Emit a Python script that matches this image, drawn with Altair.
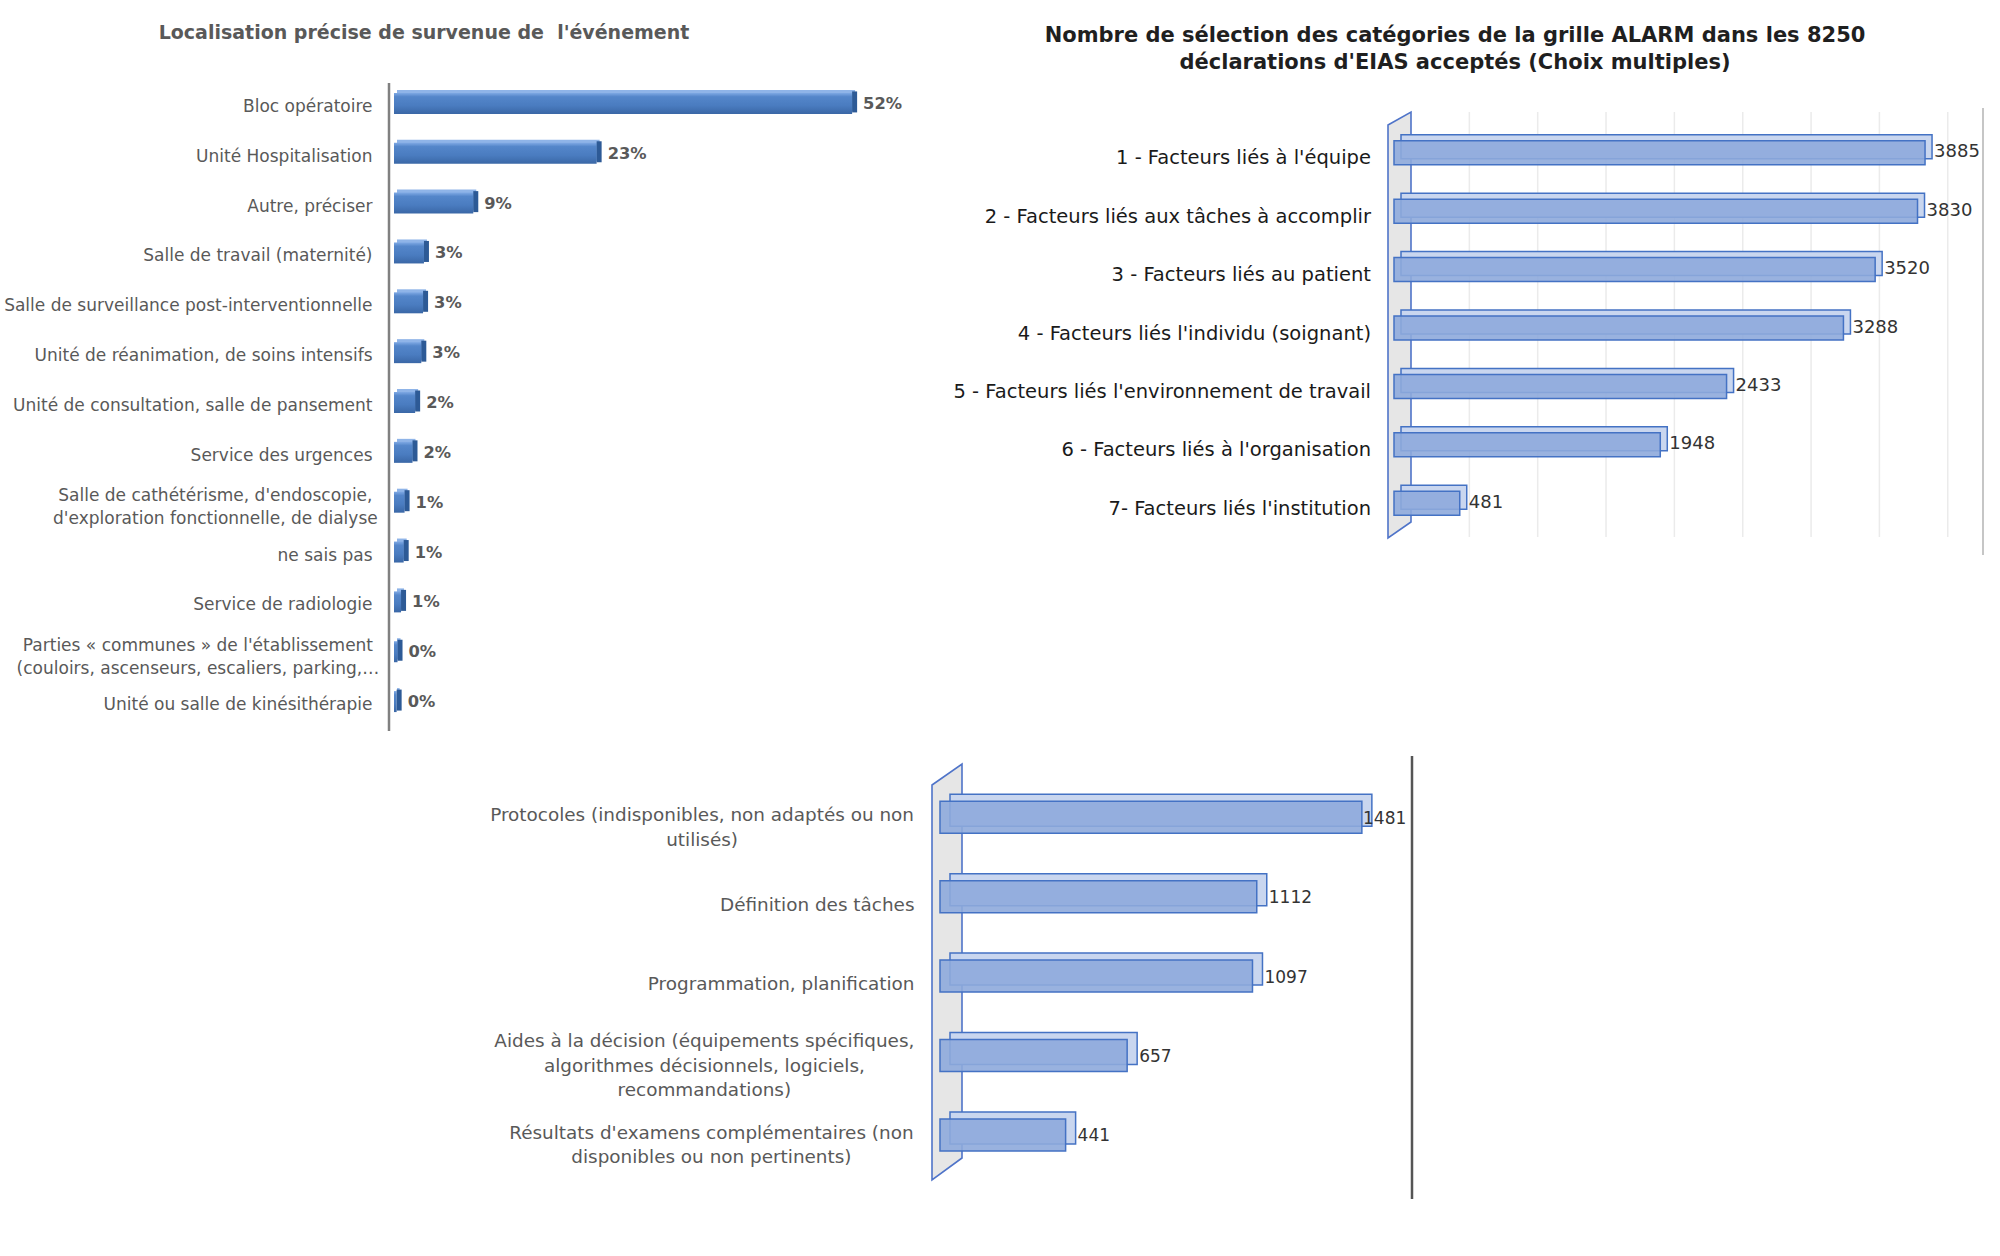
import altair as alt
import pandas as pd

# ---------------- data ----------------
loc_categories = [
    "Bloc opératoire",
    "Unité Hospitalisation",
    "Autre, préciser",
    "Salle de travail (maternité)",
    "Salle de surveillance post-interventionnelle",
    "Unité de réanimation, de soins intensifs",
    "Unité de consultation, salle de pansement",
    "Service des urgences",
    "Salle de cathétérisme, d'endoscopie,\nd'exploration fonctionnelle, de dialyse",
    "ne sais pas",
    "Service de radiologie",
    "Parties « communes » de l'établissement\n(couloirs, ascenseurs, escaliers, parking,…",
    "Unité ou salle de kinésithérapie",
]
loc_percent = [52, 23, 9, 3.4, 3.3, 3.1, 2.4, 2.1, 1.2, 1.1, 0.8, 0.4, 0.3]

alarm_categories = [
    "1 - Facteurs liés à l'équipe",
    "2 - Facteurs liés aux tâches à accomplir\u00a0",
    "3 - Facteurs liés au patient",
    "4 - Facteurs liés l'individu (soignant)\u00a0",
    "5 - Facteurs liés l'environnement de travail",
    "6 - Facteurs liés à l'organisation\u00a0",
    "7- Facteurs liés l'institution",
]
alarm_counts = [3885, 3830, 3520, 3288, 2433, 1948, 481]
alarm_grid = [500, 1000, 1500, 2000, 2500, 3000, 3500, 4000]

org_categories = [
    "Protocoles (indisponibles, non adaptés ou non\nutilisés)",
    "Définition des tâches",
    "Programmation, planification",
    "Aides à la décision (équipements spécifiques,\nalgorithmes décisionnels, logiciels,\nrecommandations)",
    "Résultats d'examens complémentaires (non\ndisponibles ou non pertinents)",
]
org_counts = [1481, 1112, 1097, 657, 441]

title_loc = "Localisation précise de survenue de\u00a0 l'événement"
title_alarm = ("Nombre de sélection des catégories de la grille ALARM dans les 8250\n"
               "déclarations d'EIAS acceptés (Choix multiples)")

FONT = "DejaVu Sans"

# ---------------- helpers ----------------
_W = {' ': .318, "'": .275, '(': .390, ')': .390, ',': .318, '-': .361, '.': .318,
      '«': .557, '»': .557, '…': 1.0, '\u00a0': .318,
      'a': .613, 'b': .635, 'c': .550, 'd': .635, 'e': .615, 'f': .352, 'g': .635,
      'h': .634, 'i': .278, 'j': .278, 'k': .579, 'l': .278, 'm': .974, 'n': .634,
      'o': .612, 'p': .635, 'q': .635, 'r': .411, 's': .521, 't': .392, 'u': .634,
      'v': .592, 'w': .818, 'x': .592, 'y': .592, 'z': .525,
      'A': .684, 'B': .686, 'C': .698, 'D': .770, 'E': .632, 'F': .575, 'G': .775,
      'H': .752, 'I': .295, 'L': .557, 'M': .863, 'N': .748, 'O': .787, 'P': .603,
      'R': .695, 'S': .635, 'T': .611, 'U': .732}
_ACC = str.maketrans("éèêëàâäîïôöùûüç", "eeeeaaaiioouuuc")


def tw(s, size):
    return sum(_W.get(ch, 0.636) for ch in s.translate(_ACC)) * size


def ycat(cats, rng):
    return alt.Y("cat:N", sort=cats,
                 scale=alt.Scale(domain=cats, range=rng, paddingInner=0, paddingOuter=0),
                 axis=None)


def xq(field, dom, rng):
    return alt.X(f"{field}:Q", scale=alt.Scale(domain=dom, range=rng, nice=False, zero=False),
                 axis=None)


def category_labels(cats, right, yrng, size, color, lh):
    rows = []
    for c in cats:
        lines = c.split("\n")
        rows.append({"cat": c, "n": len(lines), "lx": right - tw(lines[0], size) / 2})
    df = pd.DataFrame(rows)
    out = [alt.Chart(df).transform_filter("datum.n == 1").mark_text(
        align="right", baseline="middle", font=FONT, fontSize=size, color=color
    ).encode(x=alt.value(right), y=ycat(cats, yrng), text="cat:N")]
    for n in sorted(set(df["n"]) - {1}):
        out.append(alt.Chart(df).transform_filter(f"datum.n == {n}").mark_text(
            align="center", baseline="middle", font=FONT, fontSize=size, color=color,
            lineBreak="\n", lineHeight=lh, dy=-(n - 1) * lh / 2 + 2
        ).encode(x=alt.X("lx:Q", scale=None, axis=None), y=ycat(cats, yrng), text="cat:N"))
    return out


def vline(x, y0, y1, color, width):
    df = pd.DataFrame({"k": [0]})
    return alt.Chart(df).mark_rule(color=color, strokeWidth=width).encode(
        x=alt.value(x), y=alt.value(y0), y2=alt.value(y1))


def wall(xs, tops, bots):
    df = pd.DataFrame({"px": xs, "top": tops, "bot": bots})
    return alt.Chart(df).mark_area(
        orient="vertical", fill="#d6d6d6", fillOpacity=0.6, stroke="#4f74c9", strokeWidth=1.6
    ).encode(x=alt.X("px:Q", scale=None, axis=None),
             y=alt.Y("top:Q", scale=None, axis=None), y2="bot:Q")


layers = []

# ---------------- titles ----------------
layers.append(alt.Chart(pd.DataFrame({"t": [title_loc]})).mark_text(
    font=FONT, fontSize=19, fontWeight="bold", color="#595959", align="center", baseline="middle"
).encode(x=alt.value(424), y=alt.value(33), text="t:N"))
layers.append(alt.Chart(pd.DataFrame({"t": [title_alarm]})).mark_text(
    font=FONT, fontSize=21, fontWeight="bold", color="#1f1f1f", align="center", baseline="middle",
    lineBreak="\n", lineHeight=27
).encode(x=alt.value(1455), y=alt.value(35.5), text="t:N"))

# ---------------- panel 1 : localisation ----------------
X1D, X1R, Y1R = [0, 60], [394, 394 + 60 * 8.81], [82, 730]
df1 = pd.DataFrame({"cat": loc_categories, "v": loc_percent,
                    "lab": [f"{round(v)}%" for v in loc_percent]})
grad1 = alt.Gradient(gradient="linear", x1=0, x2=0, y1=0, y2=1, stops=[
    alt.GradientStop(color="#7fa9e4", offset=0),
    alt.GradientStop(color="#5486ca", offset=0.18),
    alt.GradientStop(color="#4a7cc0", offset=0.6),
    alt.GradientStop(color="#3a67a6", offset=1)])

layers.append(vline(389, 83, 731, "#808080", 2.5))
layers.append(alt.Chart(df1).mark_bar(size=21, color="#8fb4e8", xOffset=3, yOffset=-6.5).encode(
    x=xq("v", X1D, X1R), y=ycat(loc_categories, Y1R)))
layers.append(alt.Chart(df1).mark_bar(size=21, color=grad1, yOffset=-3.5).encode(
    x=xq("v", X1D, X1R), y=ycat(loc_categories, Y1R)))
layers.append(alt.Chart(df1).mark_tick(size=21, thickness=5, color="#2d5a96", xOffset=2.5, yOffset=-5,
                                       opacity=1).encode(
    x=xq("v", X1D, X1R), y=ycat(loc_categories, Y1R)))
layers += category_labels(loc_categories, 372.5, Y1R, 17, "#595959", 23)
layers.append(alt.Chart(df1).mark_text(
    font=FONT, fontSize=16.3, fontWeight="bold", color="#595959", align="left", baseline="middle",
    dx=11, dy=-3
).encode(x=xq("v", X1D, X1R), y=ycat(loc_categories, Y1R), text="lab:N"))

# ---------------- panel 2 : ALARM ----------------
X2D, X2R, Y2R = [0, 4309], [1394, 1983], [129, 538]
df2 = pd.DataFrame({"cat": alarm_categories, "v": alarm_counts})
dfg = pd.DataFrame({"g": alarm_grid})

layers.append(alt.Chart(dfg).mark_rule(color="#ebebeb", strokeWidth=1.5, xOffset=7).encode(
    x=xq("g", X2D, X2R), y=alt.value(112), y2=alt.value(537)))
layers.append(vline(1983, 108, 555, "#c6c6c6", 2))
layers.append(wall([1388, 1411], [125, 112], [538, 522]))
layers.append(alt.Chart(df2).mark_bar(size=24, fill="#c9d6ef", stroke="#4472c4", strokeWidth=1.5,
                                      xOffset=7, yOffset=-11.5).encode(
    x=xq("v", X2D, X2R), y=ycat(alarm_categories, Y2R)))
layers.append(alt.Chart(df2).mark_bar(size=24, fill="#8eaadb", fillOpacity=0.9, stroke="#4472c4",
                                      strokeWidth=1.5, yOffset=-5.5).encode(
    x=xq("v", X2D, X2R), y=ycat(alarm_categories, Y2R)))
layers += category_labels(alarm_categories, 1371, Y2R, 19.5, "#1a1a1a", 24)
layers.append(alt.Chart(df2).mark_text(
    font=FONT, fontSize=18, color="#333333", align="left", baseline="middle", dx=9, dy=-6
).encode(x=xq("v", X2D, X2R), y=ycat(alarm_categories, Y2R), text="v:Q"))

# ---------------- panel 3 : organisation ----------------
X3D, X3R, Y3R = [0, 1657], [940, 1412], [785.6, 1182.6]
df3 = pd.DataFrame({"cat": org_categories, "v": org_counts})

layers.append(wall([932, 962], [785, 764], [1180, 1158]))
layers.append(vline(1412, 756, 1199, "#555555", 2.5))
layers.append(alt.Chart(df3).mark_bar(size=32, fill="#c9d6ef", stroke="#4472c4", strokeWidth=1.5,
                                      xOffset=10, yOffset=-15).encode(
    x=xq("v", X3D, X3R), y=ycat(org_categories, Y3R)))
layers.append(alt.Chart(df3).mark_bar(size=32, fill="#8eaadb", fillOpacity=0.9, stroke="#4472c4",
                                      strokeWidth=1.5, yOffset=-8).encode(
    x=xq("v", X3D, X3R), y=ycat(org_categories, Y3R)))
layers += category_labels(org_categories, 914.5, Y3R, 18.4, "#595959", 24.5)
layers.append(alt.Chart(df3).transform_calculate(lx="min(datum.v, 1443)").mark_text(
    font=FONT, fontSize=17, color="#333333", align="left", baseline="middle", dx=12, dy=-6.5
).encode(x=xq("lx", X3D, X3R), y=ycat(org_categories, Y3R), text="v:Q"))

chart = alt.layer(*layers).resolve_scale(x="independent", y="independent").properties(
    width=2000, height=1256, autosize=alt.AutoSizeParams(type="none"), padding=0,
    background="white"
).configure_view(stroke=None)

chart.save("out.html", embed_options={"renderer": "svg", "actions": False})
